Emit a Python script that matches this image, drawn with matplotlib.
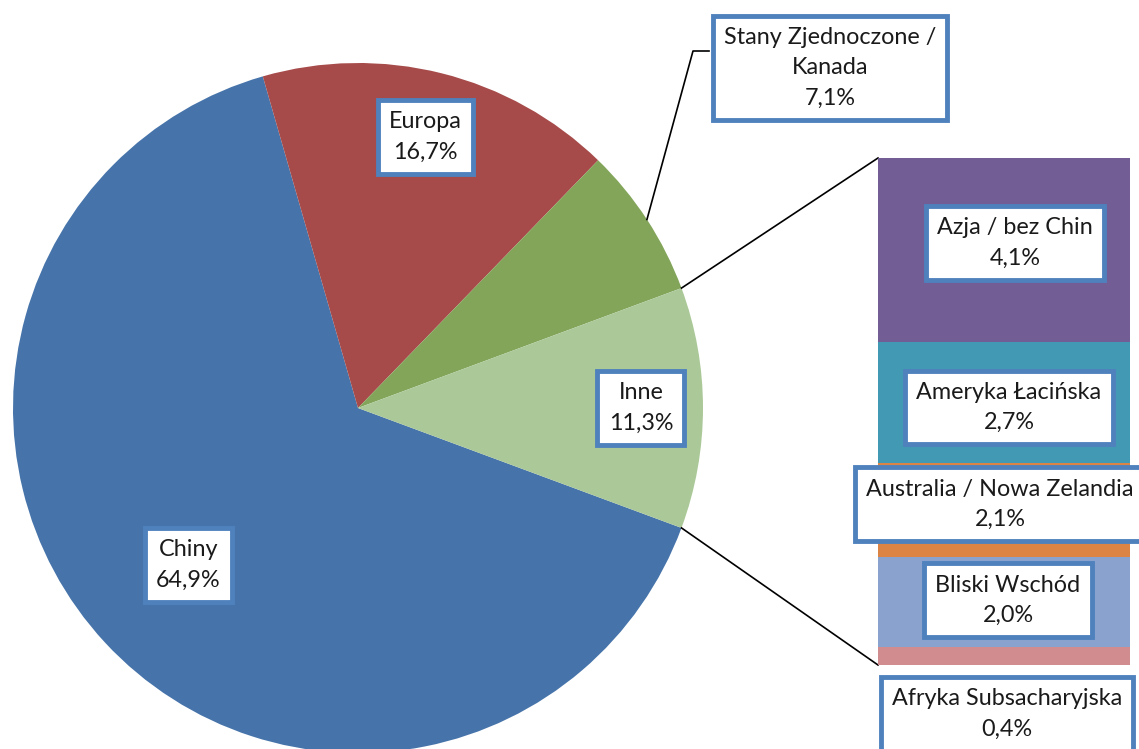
import matplotlib
matplotlib.use('Agg')
import matplotlib.pyplot as plt
import numpy as np

plt.rcParams['font.family'] = ['Lato', 'DejaVu Sans']

# główne koło
kategorie = ['Chiny', 'Europa', 'Stany Zjednoczone /\nKanada', 'Inne']
udzialy = [64.9, 16.7, 7.1, 11.3]
kolory_kolo = ['#4674AA', '#A64B4A', '#82A55A', '#ABC998']

# rozbicie "Inne" (od dołu słupka)
inne_kategorie = ['Afryka Subsacharyjska', 'Bliski Wschód',
                  'Australia / Nowa Zelandia', 'Ameryka Łacińska', 'Azja / bez Chin']
inne_udzialy = [0.4, 2.0, 2.1, 2.7, 4.1]
kolory_slupek = ['#D08C8F', '#8AA3CE', '#DB8444', '#4199B3', '#725D94']


def etykieta(nazwa, wartosc):
    return nazwa + '\n' + f'{wartosc:.1f}'.replace('.', ',') + '%'


W, H = 1139, 749
cx, cy, r = 358, H - 408, 345
ramka = dict(boxstyle='square,pad=0.48', fc='white', ec='#4F81BD', lw=3.5)
rozmiar = 16.8
odstep = 1.55

fig = plt.figure(figsize=(W / 100, H / 100), dpi=100)
ax = fig.add_axes([0, 0, 1, 1])

start = -udzialy[-1] / sum(udzialy) * 180
wedges, _ = ax.pie(udzialy, colors=kolory_kolo, startangle=start, counterclock=False,
                   center=(cx, cy), radius=r, wedgeprops=dict(linewidth=0))
ax.set_xlim(0, W)
ax.set_ylim(0, H)
ax.set_aspect('equal')
ax.axis('off')

odl = [0.67, 0.81, None, 0.82]
for w, nazwa, val, d in zip(wedges, kategorie, udzialy, odl):
    kat = np.deg2rad((w.theta1 + w.theta2) / 2)
    if d is None:
        # etykieta na zewnątrz z linią odniesienia
        px, py = cx + r * np.cos(kat), cy + r * np.sin(kat)
        ax.plot([px, 693, 709], [py, H - 51, H - 51], color='black', lw=1.2)
        ax.text(830, H - 68, etykieta(nazwa, val), ha='center', va='center',
                fontsize=rozmiar, linespacing=odstep, bbox=ramka, zorder=5, color='#1a1a1a')
    else:
        ax.text(cx + d * r * np.cos(kat), cy + d * r * np.sin(kat), etykieta(nazwa, val),
                ha='center', va='center', fontsize=rozmiar, linespacing=odstep,
                bbox=ramka, zorder=5, color='#1a1a1a')

# słupek z rozbiciem
bx0, bx1, by_top, by_bot = 878, 1130, 158, 665
ax2 = fig.add_axes([bx0 / W, (H - by_bot) / H, (bx1 - bx0) / W, (by_bot - by_top) / H])
dol = np.concatenate([[0], np.cumsum(inne_udzialy)[:-1]])
ax2.bar(0, inne_udzialy, bottom=dol, width=1, color=kolory_slupek, linewidth=0)
ax2.set_xlim(-0.5, 0.5)
ax2.set_ylim(0, sum(inne_udzialy))
ax2.axis('off')

przesun = [(3, -58), (4, 2), (-4, 6), (5, -5), (11, 7)]
for nazwa, val, b, (dx, dy) in zip(inne_kategorie, inne_udzialy, dol, przesun):
    ax2.annotate(etykieta(nazwa, val), xy=(0, b + val / 2), xytext=(dx, dy),
                 textcoords='offset pixels', ha='center', va='center',
                 fontsize=rozmiar, linespacing=odstep, bbox=ramka, zorder=5,
                 color='#1a1a1a', annotation_clip=False)

# linie łączące koło ze słupkiem
pol = np.deg2rad(udzialy[-1] / sum(udzialy) * 180)
ax.plot([cx + r * np.cos(pol), bx0], [cy + r * np.sin(pol), H - by_top], color='black', lw=1.2)
ax.plot([cx + r * np.cos(pol), bx0], [cy - r * np.sin(pol), H - by_bot], color='black', lw=1.2)

fig.savefig('out.png', dpi=100)
